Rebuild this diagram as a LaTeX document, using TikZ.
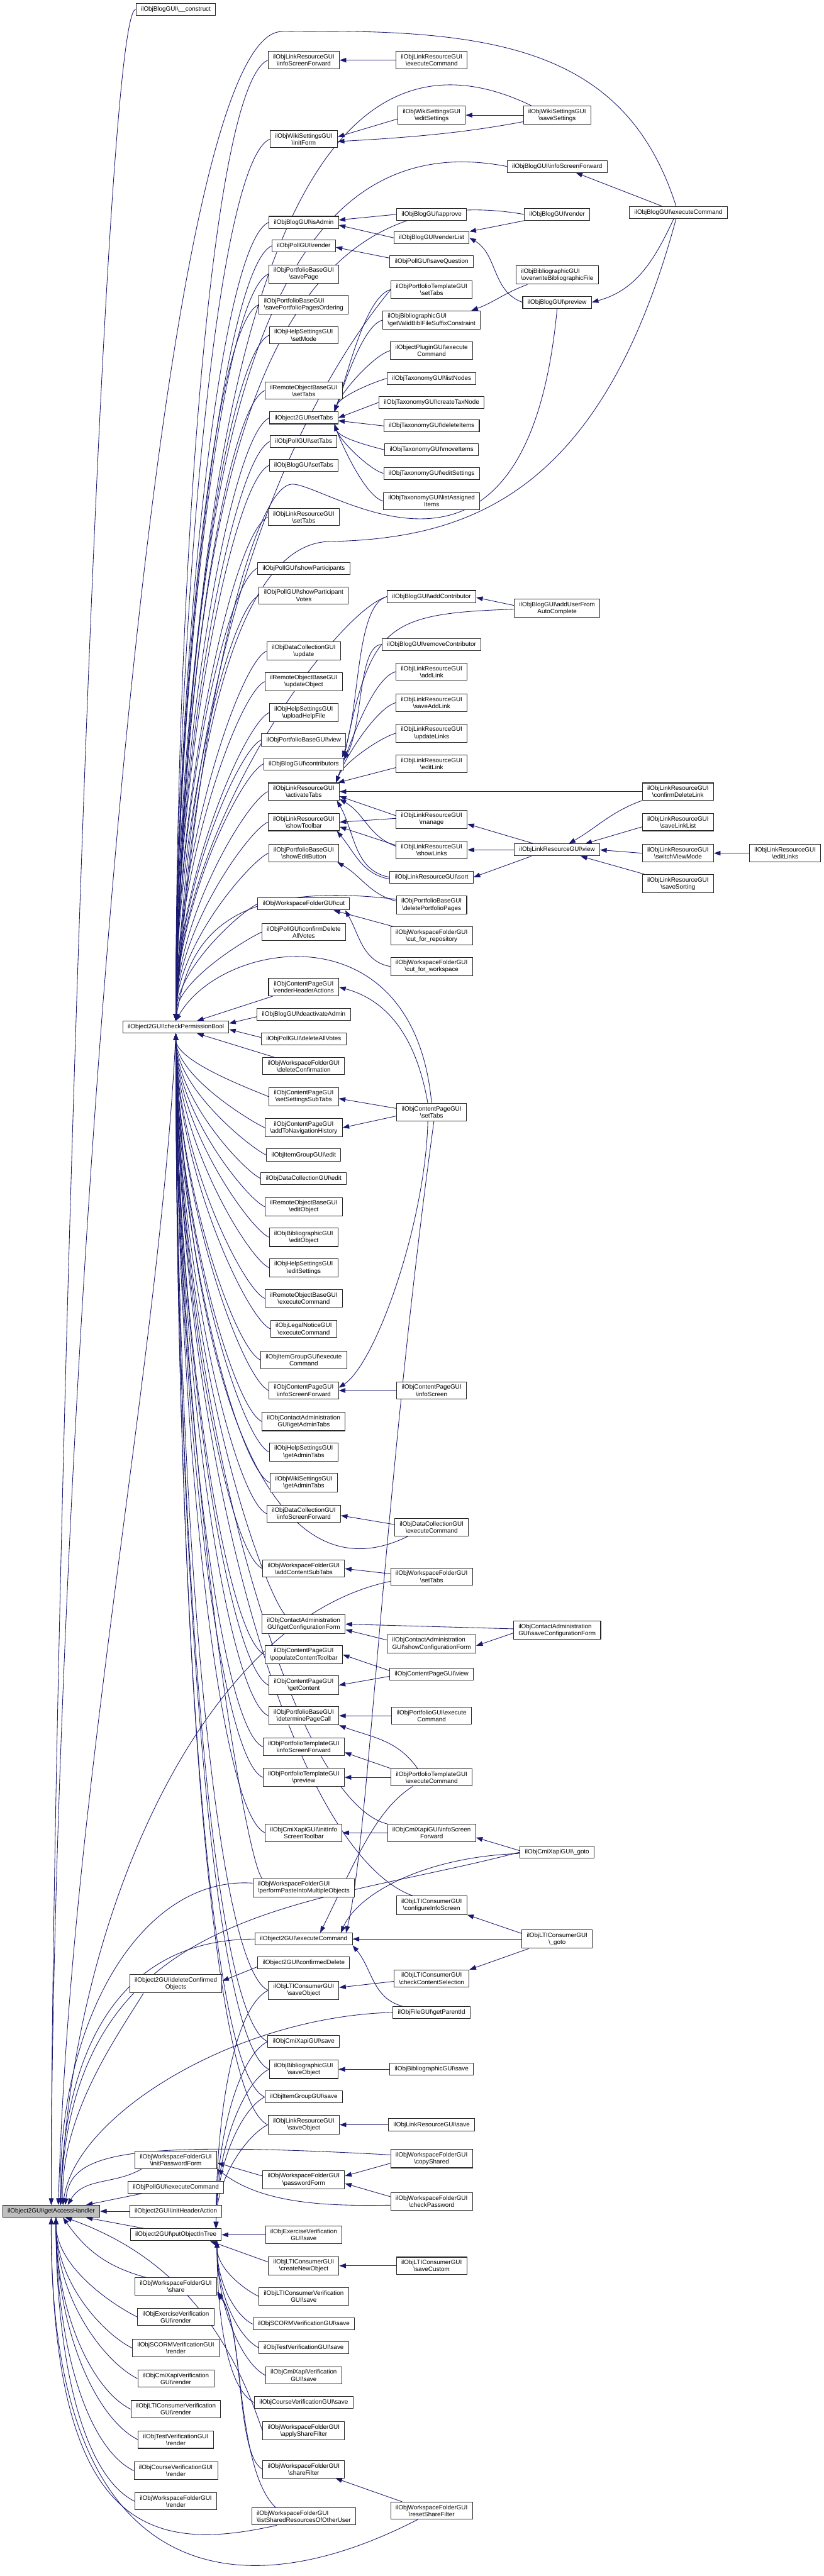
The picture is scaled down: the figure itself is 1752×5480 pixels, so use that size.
\documentclass[tikz,border=0pt]{standalone}
\usepackage{fontspec}
\setmainfont{Liberation Sans}
\usetikzlibrary{positioning, shapes, arrows.meta, calc}
\definecolor{edgeblue}{HTML}{191970}
\definecolor{rootgray}{HTML}{BFBFBF}
\newcommand{\bs}{\textbackslash}
\pgfdeclarelayer{back}
\pgfdeclarelayer{bg}
\pgfsetlayers{back,bg,main}
\tikzset{
  fn/.style={draw=black!85, fill=white, line width=1.4pt, align=center, inner xsep=10.5pt, inner ysep=6pt, minimum height=25.5pt, font=\fontsize{13.2}{15}\selectfont},
  fnl/.style={fn, align=left},
  call/.style={color=edgeblue, line width=1.15pt, {Triangle[length=14pt,width=10pt]}-},
  fan/.style n args={3}{to path={let \p1=(\tikztostart), \p2=(\tikztotarget), \n1={#1*(\y2-\y1)}, \n2={#2*abs(\y2-\y1)+20} in .. controls ({\x1},{\y1+\n1}) and ({\x2-\n2},{\y2+(#3)*\n2}) .. (\tikztotarget)}},
  fanup/.style={fan={0.45}{0.05}{-0.45}},
  fandn/.style={fan={0.45}{0.05}{0.45}},
  fanroot/.style={fan={0.25}{0.012}{0}},
  fanrd/.style={fan={0.5}{0.15}{0.5}},
  fanpu/.style={fan={0.5}{0.1}{-0.5}},
  fanpd/.style={fan={0.5}{0.1}{0.5}},
  tabup/.style={out=70, in=195, out looseness=.7, in looseness=.5},
  tabdn/.style={out=-70, in=165, out looseness=.7, in looseness=.5}}

\begin{document}
\begin{tikzpicture}[x=1pt, y=1pt]
\begin{pgfonlayer}{back}
\fill[white] (0,0) rectangle (1752,-5480);
\end{pgfonlayer}
\useasboundingbox (0,0) rectangle (1752,-5480);

% root and second column
\node[fn, fill=rootgray] (root) at (109,-4704) {ilObject2GUI\bs{}getAccessHandler};
\node[fn] (bcons) at (374,-20) {ilObjBlogGUI\bs{}\_\_construct};
\node[fn] (cpb) at (374,-2185) {ilObject2GUI\bs{}checkPermissionBool};
\node[fn] (delconf) at (374,-4220) {ilObject2GUI\bs{}deleteConfirmed\\Objects};
\node[fn] (initpw) at (374,-4595) {ilObjWorkspaceFolderGUI\\\bs{}initPasswordForm};
\node[fn] (pollexec) at (374,-4653) {ilObjPollGUI\bs{}executeCommand};
\node[fn] (inithead) at (374,-4704) {ilObject2GUI\bs{}initHeaderAction};
\node[fn] (putobj) at (374,-4754) {ilObject2GUI\bs{}putObjectInTree};
\node[fn] (share) at (374,-4864) {ilObjWorkspaceFolderGUI\\\bs{}share};
\node[fn] (rexc) at (374,-4929) {ilObjExerciseVerification\\GUI\bs{}render};
\node[fn] (rscorm) at (374,-4995) {ilObjSCORMVerificationGUI\\\bs{}render};
\node[fn] (rcmi) at (374,-5060) {ilObjCmiXapiVerification\\GUI\bs{}render};
\node[fn] (rlti) at (374,-5125) {ilObjLTIConsumerVerification\\GUI\bs{}render};
\node[fn] (rtst) at (374,-5190) {ilObjTestVerificationGUI\\\bs{}render};
\node[fn] (rcrs) at (374,-5256) {ilObjCourseVerificationGUI\\\bs{}render};
\node[fn] (rwsp) at (374,-5321) {ilObjWorkspaceFolderGUI\\\bs{}render};

% third column
\node[fn] (lrisf) at (646,-128) {ilObjLinkResourceGUI\\\bs{}infoScreenForward};
\node[fn] (wkinit) at (646,-296) {ilObjWikiSettingsGUI\\\bs{}initForm};
\node[fn] (bladm) at (646,-473) {ilObjBlogGUI\bs{}isAdmin};
\node[fn] (plrend) at (646,-523) {ilObjPollGUI\bs{}render};
\node[fn] (pfsave) at (646,-583) {ilObjPortfolioBaseGUI\\\bs{}savePage};
\node[fnl] (pforder) at (646,-648) {ilObjPortfolioBaseGUI\\\bs{}savePortfolioPagesOrdering};
\node[fn] (hsmode) at (646,-713) {ilObjHelpSettingsGUI\\\bs{}setMode};
\node[fn] (rotabs) at (646,-831) {ilRemoteObjectBaseGUI\\\bs{}setTabs};
\node[fn] (o2tabs) at (646,-889) {ilObject2GUI\bs{}setTabs};
\node[fn] (pltabs) at (646,-939) {ilObjPollGUI\bs{}setTabs};
\node[fn] (bltabs) at (646,-990) {ilObjBlogGUI\bs{}setTabs};
\node[fn] (lrtabs) at (646,-1100) {ilObjLinkResourceGUI\\\bs{}setTabs};
\node[fn] (plpart) at (646,-1209) {ilObjPollGUI\bs{}showParticipants};
\node[fn] (plvotes) at (646,-1267) {ilObjPollGUI\bs{}showParticipant\\Votes};
\node[fn] (dcupd) at (646,-1385) {ilObjDataCollectionGUI\\\bs{}update};
\node[fn] (roupd) at (646,-1450) {ilRemoteObjectBaseGUI\\\bs{}updateObject};
\node[fn] (hsupl) at (646,-1516) {ilObjHelpSettingsGUI\\\bs{}uploadHelpFile};
\node[fn] (pfview) at (646,-1574) {ilObjPortfolioBaseGUI\bs{}view};
\node[fn] (blcontr) at (646,-1625) {ilObjBlogGUI\bs{}contributors};
\node[fn] (lract) at (646,-1684) {ilObjLinkResourceGUI\\\bs{}activateTabs};
\node[fn] (lrtool) at (646,-1749) {ilObjLinkResourceGUI\\\bs{}showToolbar};
\node[fn] (pfedit) at (646,-1815) {ilObjPortfolioBaseGUI\\\bs{}showEditButton};
\node[fn] (wscut) at (646,-1923) {ilObjWorkspaceFolderGUI\bs{}cut};
\node[fn] (pldelall) at (646,-1983) {ilObjPollGUI\bs{}confirmDelete\\AllVotes};
\node[fn] (cprha) at (646,-2100) {ilObjContentPageGUI\\\bs{}renderHeaderActions};
\node[fn] (bldeact) at (646,-2158) {ilObjBlogGUI\bs{}deactivateAdmin};
\node[fn] (pldel) at (646,-2210) {ilObjPollGUI\bs{}deleteAllVotes};
\node[fn] (wsdelc) at (646,-2268) {ilObjWorkspaceFolderGUI\\\bs{}deleteConfirmation};
\node[fn] (cpsub) at (646,-2333) {ilObjContentPageGUI\\\bs{}setSettingsSubTabs};
\node[fn] (cpnav) at (646,-2399) {ilObjContentPageGUI\\\bs{}addToNavigationHistory};
\node[fn] (igedit) at (646,-2457) {ilObjItemGroupGUI\bs{}edit};
\node[fn] (dcedit) at (646,-2507) {ilObjDataCollectionGUI\bs{}edit};
\node[fn] (roedit) at (646,-2567) {ilRemoteObjectBaseGUI\\\bs{}editObject};
\node[fn] (bbedit) at (646,-2632) {ilObjBibliographicGUI\\\bs{}editObject};
\node[fn] (hsedit) at (646,-2697) {ilObjHelpSettingsGUI\\\bs{}editSettings};
\node[fn] (roexec) at (646,-2762) {ilRemoteObjectBaseGUI\\\bs{}executeCommand};
\node[fn] (lnexec) at (646,-2827) {ilObjLegalNoticeGUI\\\bs{}executeCommand};
\node[fn] (igexec) at (646,-2893) {ilObjItemGroupGUI\bs{}execute\\Command};
\node[fn] (cpisf) at (646,-2958) {ilObjContentPageGUI\\\bs{}infoScreenForward};
\node[fn] (caadm) at (646,-3024) {ilObjContactAdministration\\GUI\bs{}getAdminTabs};
\node[fn] (hsadm) at (646,-3089) {ilObjHelpSettingsGUI\\\bs{}getAdminTabs};
\node[fn] (wkadm) at (646,-3154) {ilObjWikiSettingsGUI\\\bs{}getAdminTabs};
\node[fn] (dcisf) at (646,-3220) {ilObjDataCollectionGUI\\\bs{}infoScreenForward};
\node[fn] (wssub) at (646,-3337) {ilObjWorkspaceFolderGUI\\\bs{}addContentSubTabs};
\node[fn] (cacfg) at (646,-3455) {ilObjContactAdministration\\GUI\bs{}getConfigurationForm};
\node[fn] (cptool) at (646,-3520) {ilObjContentPageGUI\\\bs{}populateContentToolbar};
\node[fn] (cpcont) at (646,-3585) {ilObjContentPageGUI\\\bs{}getContent};
\node[fn] (pfdet) at (646,-3650) {ilObjPortfolioBaseGUI\\\bs{}determinePageCall};
\node[fn] (ptisf) at (646,-3716) {ilObjPortfolioTemplateGUI\\\bs{}infoScreenForward};
\node[fn] (ptprev) at (646,-3781) {ilObjPortfolioTemplateGUI\\\bs{}preview};
\node[fn] (cxtool) at (646,-3899) {ilObjCmiXapiGUI\bs{}initInfo\\ScreenToolbar};
\node[fnl] (wspaste) at (646,-4016) {ilObjWorkspaceFolderGUI\\\bs{}performPasteIntoMultipleObjects};
\node[fn] (o2exec) at (646,-4125) {ilObject2GUI\bs{}executeCommand};
\node[fn] (o2cdel) at (646,-4176) {ilObject2GUI\bs{}confirmedDelete};
\node[fn] (ltisave) at (646,-4234) {ilObjLTIConsumerGUI\\\bs{}saveObject};
\node[fn] (cxsave) at (646,-4343) {ilObjCmiXapiGUI\bs{}save};
\node[fn] (bbsobj) at (646,-4402) {ilObjBibliographicGUI\\\bs{}saveObject};
\node[fn] (igsave) at (646,-4461) {ilObjItemGroupGUI\bs{}save};
\node[fn] (lrsobj) at (646,-4520) {ilObjLinkResourceGUI\\\bs{}saveObject};
\node[fn] (wspw) at (646,-4637) {ilObjWorkspaceFolderGUI\\\bs{}passwordForm};
\node[fn] (vexc) at (646,-4754) {ilObjExerciseVerification\\GUI\bs{}save};
\node[fn] (lticre) at (646,-4820) {ilObjLTIConsumerGUI\\\bs{}createNewObject};
\node[fn] (vlti) at (646,-4885) {ilObjLTIConsumerVerification\\GUI\bs{}save};
\node[fn] (vscorm) at (646,-4944) {ilObjSCORMVerificationGUI\bs{}save};
\node[fn] (vtst) at (646,-4994) {ilObjTestVerificationGUI\bs{}save};
\node[fn] (vcmi) at (646,-5053) {ilObjCmiXapiVerification\\GUI\bs{}save};
\node[fn] (vcrs) at (646,-5111) {ilObjCourseVerificationGUI\bs{}save};
\node[fn] (wsapply) at (646,-5171) {ilObjWorkspaceFolderGUI\\\bs{}applyShareFilter};
\node[fn] (wsfilt) at (646,-5253) {ilObjWorkspaceFolderGUI\\\bs{}shareFilter};
\node[fnl] (wslist) at (646,-5353) {ilObjWorkspaceFolderGUI\\\bs{}listSharedResourcesOfOtherUser};

% fourth column
\node[fn] (lrexec) at (918,-128) {ilObjLinkResourceGUI\\\bs{}executeCommand};
\node[fn] (wkedit) at (918,-245) {ilObjWikiSettingsGUI\\\bs{}editSettings};
\node[fn] (blappr) at (918,-456) {ilObjBlogGUI\bs{}approve};
\node[fn] (blrlist) at (918,-506) {ilObjBlogGUI\bs{}renderList};
\node[fn] (plsaveq) at (918,-557) {ilObjPollGUI\bs{}saveQuestion};
\node[fn] (pttabs) at (918,-616) {ilObjPortfolioTemplateGUI\\\bs{}setTabs};
\node[fnl] (bbvalid) at (918,-681) {ilObjBibliographicGUI\\\bs{}getValidBiblFileSuffixConstraint};
\node[fn] (plugexec) at (918,-746) {ilObjectPluginGUI\bs{}execute\\Command};
\node[fn] (txlist) at (918,-805) {ilObjTaxonomyGUI\bs{}listNodes};
\node[fn] (txcreate) at (918,-856) {ilObjTaxonomyGUI\bs{}createTaxNode};
\node[fn] (txdel) at (918,-906) {ilObjTaxonomyGUI\bs{}deleteItems};
\node[fn] (txmove) at (918,-957) {ilObjTaxonomyGUI\bs{}moveItems};
\node[fn] (txedit) at (918,-1007) {ilObjTaxonomyGUI\bs{}editSettings};
\node[fn] (txassign) at (918,-1066) {ilObjTaxonomyGUI\bs{}listAssigned\\Items};
\node[fn] (bladdc) at (918,-1269) {ilObjBlogGUI\bs{}addContributor};
\node[fn] (blremc) at (918,-1371) {ilObjBlogGUI\bs{}removeContributor};
\node[fn] (lradd) at (918,-1429) {ilObjLinkResourceGUI\\\bs{}addLink};
\node[fn] (lrsadd) at (918,-1495) {ilObjLinkResourceGUI\\\bs{}saveAddLink};
\node[fn] (lrupd) at (918,-1560) {ilObjLinkResourceGUI\\\bs{}updateLinks};
\node[fn] (lredit) at (918,-1625) {ilObjLinkResourceGUI\\\bs{}editLink};
\node[fn] (lrman) at (918,-1743) {ilObjLinkResourceGUI\\\bs{}manage};
\node[fn] (lrshow) at (918,-1808) {ilObjLinkResourceGUI\\\bs{}showLinks};
\node[fn] (lrsort) at (918,-1866) {ilObjLinkResourceGUI\bs{}sort};
\node[fn] (pfdelp) at (918,-1925) {ilObjPortfolioBaseGUI\\\bs{}deletePortfolioPages};
\node[fn] (wscutr) at (918,-1991) {ilObjWorkspaceFolderGUI\\\bs{}cut\_for\_repository};
\node[fn] (wscutw) at (918,-2056) {ilObjWorkspaceFolderGUI\\\bs{}cut\_for\_workspace};
\node[fn] (cptabs) at (918,-2366) {ilObjContentPageGUI\\\bs{}setTabs};
\node[fn] (cpinfo) at (918,-2958) {ilObjContentPageGUI\\\bs{}infoScreen};
\node[fn] (dcexec) at (918,-3249) {ilObjDataCollectionGUI\\\bs{}executeCommand};
\node[fn] (wstabs) at (918,-3354) {ilObjWorkspaceFolderGUI\\\bs{}setTabs};
\node[fnl] (cashow) at (918,-3497) {ilObjContactAdministration\\GUI\bs{}showConfigurationForm};
\node[fn] (cpview) at (918,-3562) {ilObjContentPageGUI\bs{}view};
\node[fn] (pfexec) at (918,-3650) {ilObjPortfolioGUI\bs{}execute\\Command};
\node[fn] (ptexec) at (918,-3781) {ilObjPortfolioTemplateGUI\\\bs{}executeCommand};
\node[fn] (cxisf) at (918,-3899) {ilObjCmiXapiGUI\bs{}infoScreen\\Forward};
\node[fn] (lticfg) at (918,-4053) {ilObjLTIConsumerGUI\\\bs{}configureInfoScreen};
\node[fn] (lticheck) at (918,-4209) {ilObjLTIConsumerGUI\\\bs{}checkContentSelection};
\node[fn] (fileparent) at (918,-4281) {ilObjFileGUI\bs{}getParentId};
\node[fn] (bbsave) at (918,-4402) {ilObjBibliographicGUI\bs{}save};
\node[fn] (lrsave) at (918,-4520) {ilObjLinkResourceGUI\bs{}save};
\node[fn] (wscopy) at (918,-4592) {ilObjWorkspaceFolderGUI\\\bs{}copyShared};
\node[fn] (wschk) at (918,-4683) {ilObjWorkspaceFolderGUI\\\bs{}checkPassword};
\node[fn] (lticust) at (918,-4820) {ilObjLTIConsumerGUI\\\bs{}saveCustom};
\node[fn] (wsreset) at (918,-5341) {ilObjWorkspaceFolderGUI\\\bs{}resetShareFilter};

% fifth to seventh column
\node[fn] (wksave) at (1185,-245) {ilObjWikiSettingsGUI\\\bs{}saveSettings};
\node[fn] (blisf) at (1185,-354) {ilObjBlogGUI\bs{}infoScreenForward};
\node[fn] (blrend) at (1185,-456) {ilObjBlogGUI\bs{}render};
\node[fnl] (bbover) at (1185,-585) {ilObjBibliographicGUI\\\bs{}overwriteBibliographicFile};
\node[fn] (blprev) at (1185,-643) {ilObjBlogGUI\bs{}preview};
\node[fn] (bladdu) at (1185,-1294) {ilObjBlogGUI\bs{}addUserFrom\\AutoComplete};
\node[fn] (lrview) at (1185,-1808) {ilObjLinkResourceGUI\bs{}view};
\node[fnl] (casave) at (1185,-3468) {ilObjContactAdministration\\GUI\bs{}saveConfigurationForm};
\node[fn] (cxgoto) at (1185,-3940) {ilObjCmiXapiGUI\bs{}\_goto};
\node[fn] (ltigoto) at (1185,-4125) {ilObjLTIConsumerGUI\\\bs{}\_goto};
\node[fn] (blexec) at (1443,-452) {ilObjBlogGUI\bs{}executeCommand};
\node[fn] (lrcdel) at (1442,-1684) {ilObjLinkResourceGUI\\\bs{}confirmDeleteLink};
\node[fn] (lrsll) at (1442,-1749) {ilObjLinkResourceGUI\\\bs{}saveLinkList};
\node[fn] (lrswitch) at (1442,-1815) {ilObjLinkResourceGUI\\\bs{}switchViewMode};
\node[fn] (lrssort) at (1442,-1880) {ilObjLinkResourceGUI\\\bs{}saveSorting};
\node[fn] (lreditl) at (1670,-1815) {ilObjLinkResourceGUI\\\bs{}editLinks};

\begin{pgfonlayer}{bg}
% callers of getAccessHandler
\draw[call] (root.north) to[fanroot] (bcons.west);
\coordinate (bxtop) at (600,-67);
\draw[call] (root.north) .. controls (109,-3300) and (300,-67) .. (bxtop) .. controls (1050,-60) and (1330,-100) .. ([xshift=-5pt]blexec.north);
\draw[call] ([xshift=15pt]root.north) .. controls (150,-3800) and (340,-2900) .. (cpb.south);
\draw[call] ([xshift=20pt]root.north) .. controls (150,-4100) and (420,-3450) .. ([yshift=-10pt]wstabs.west);
\draw[call] ([xshift=20pt]root.north) .. controls (120,-4300) and (300,-3990) .. ([yshift=10pt]wspaste.west);
\draw[call] ([xshift=20pt]root.north) .. controls (135,-4350) and (260,-4125) .. (o2exec.west);
\draw[call] ([xshift=20pt]root.north) .. controls (150,-4050) and (650,-4060) .. (cxgoto.west);
\draw[call] ([xshift=25pt]root.north) .. controls (160,-4500) and (500,-4290) .. (fileparent.west);
\draw[call] ([xshift=25pt]root.north) .. controls (128,-4500) and (250,-4330) .. ([xshift=30pt]delconf.south west);
\draw[call] ([xshift=30pt]root.north) .. controls (150,-4580) and (260,-4553) .. ([yshift=8pt]wscopy.west);
\draw[call] ([xshift=35pt]root.north) to[out=60,in=-150] ([xshift=15pt]initpw.south west);
\draw[call] ([xshift=-30pt]root.north east) -- ([xshift=30pt]pollexec.south west);
\draw[call] (root.east) -- (inithead.west);
\draw[call] ([xshift=-30pt]root.south east) -- ([xshift=30pt]putobj.north west);
\draw[call] ([xshift=25pt]root.south) to[out=-55,in=165] ([xshift=25pt]share.north west);
\foreach \c in {rexc,rscorm,rcmi,rlti,rtst,rcrs,rwsp}
  \draw[call] ([xshift=10pt]root.south) to[fanrd] (\c.west);
\draw[call] ([xshift=30pt]root.south) .. controls (400,-4810) and (500,-5000) .. (wsapply.west);
\draw[call] (root.south) .. controls (110,-5400) and (330,-5430) .. ([xshift=-57pt]wslist.south);
\draw[call] (root.south) .. controls (105,-5500) and (500,-5560) .. ([xshift=-30pt]wsreset.south);

% callers of checkPermissionBool
\foreach \c in {lrisf,wkinit,bladm,plrend,pfsave,pforder,hsmode,rotabs,o2tabs,pltabs,bltabs,lrtabs,plpart,plvotes,dcupd,roupd,hsupl,pfview,blcontr,lract,lrtool,pfedit,wscut,pldelall}
  \draw[call] (cpb.north) to[fanup] (\c.west);
\draw[call] (cpb.north) .. controls (400,-1000) and (560,50) .. ([xshift=-55pt]wksave.north);
\draw[call] (cpb.north) .. controls (400,-1000) and (540,-250) .. (blisf.west);
\draw[call] (cpb.north) .. controls (400,-1000) and (560,-360) .. (blrend.west);
\draw[call] (cpb.north) .. controls (410,-1250) and (680,-800) .. (pttabs.west);
\coordinate (bpw) at (622,-1030);
\draw[call] (cpb.north) .. controls (420,-1500) and (540,-1030) .. (bpw) .. controls (700,-1030) and (1120,-1350) .. (blprev.south);
\coordinate (bxlow) at (700,-1152);
\draw[call] (cpb.north) .. controls (400,-1700) and (480,-1158) .. (bxlow) .. controls (1000,-1146) and (1280,-1050) .. ([xshift=-5pt]blexec.south);
\draw[call] (cpb.north) to[fan={0.45}{0.1}{-0.3}] (bladdc.west);
\draw[call] (cpb.north) .. controls (400,-2000) and (480,-1870) .. ([yshift=12pt]pfdelp.west);
\draw[call] (cpb.north) .. controls (470,-2000) and (880,-1930) .. (cptabs.north);
\draw[call] ([xshift=45pt]cpb.north) -- ([xshift=10pt]cprha.south west);
\draw[call] ([yshift=8pt]cpb.east) -- ([yshift=-5pt]bldeact.west);
\draw[call] ([yshift=-5pt]cpb.east) -- ([yshift=3pt]pldel.west);
\draw[call] ([xshift=45pt]cpb.south) -- ([xshift=25pt]wsdelc.north west);
\foreach \c in {cpsub,cpnav,igedit,dcedit,roedit,bbedit,hsedit,roexec,lnexec,igexec,cpisf,caadm,hsadm,wkadm,dcisf,wssub,cptool,cpcont,pfdet,ptisf,ptprev,cxtool,ltisave,cxsave,bbsobj,igsave,lrsobj}
  \draw[call] (cpb.south) to[fandn] (\c.west);
\draw[call] (cpb.south) .. controls (400,-2900) and (560,-3420) .. ([xshift=-50pt]dcexec.south);
\draw[call] (cpb.south) .. controls (380,-2900) and (560,-3380) .. ([xshift=-40pt]cacfg.north);
\draw[call] (cpb.south) .. controls (380,-3000) and (620,-3830) .. (cxisf.north west);
\draw[call] (cpb.south) .. controls (380,-3100) and (620,-3940) .. ([xshift=35pt]lticfg.north west);
\draw[call] (cpb.south) .. controls (380,-3100) and (520,-3950) .. ([xshift=20pt]wspaste.north west);

% callers of putObjectInTree and share
\foreach \c in {ltisave,cxsave,bbsobj,igsave,lrsobj}
  \draw[call] ([xshift=-12pt]putobj.north east) to[fanpu] (\c.west);
\draw[call] (putobj.east) -- (vexc.west);
\draw[call] ([xshift=-25pt]putobj.south east) -- ([yshift=8pt]lticre.west);
\foreach \c in {vlti,vscorm,vtst,vcmi,vcrs}
  \draw[call] ([xshift=-10pt]putobj.south east) to[fanpd] (\c.west);
\draw[call] ([yshift=4pt]share.south east) .. controls (520,-4950) and (500,-5220) .. (wsfilt.west);
\draw[call] ([yshift=8pt]share.south east) .. controls (520,-4950) and (500,-5250) .. ([xshift=-60pt]wslist.north);

% wiki, blog, poll
\draw[call] (lrisf.east) -- (lrexec.west);
\draw[call] ([yshift=5pt]wkinit.east) -- ([yshift=-8pt]wkedit.west);
\draw[call] (wkedit.east) -- (wksave.west);
\draw[call] ([yshift=-5pt]wkinit.east) .. controls (900,-291) and (1000,-280) .. ([yshift=-14pt]wksave.west);
\draw[call] ([xshift=40pt]blisf.south) -- ([xshift=-35pt]blexec.north);
\draw[call] (blprev.east) to[out=15,in=-115] ([xshift=-10pt]blexec.south);
\draw[call] ([yshift=5pt]bladm.east) -- (blappr.west);
\draw[call] ([yshift=-6pt]bladm.east) -- (blrlist.west);
\draw[call] (blrlist.north east) -- (blrend.south west);
\draw[call] (blrlist.east) to[out=-30,in=160] (blprev.west);
\draw[call] ([yshift=-3pt]plrend.east) -- ([yshift=8pt]plsaveq.west);
\draw[call] ([xshift=-20pt]bbvalid.north east) to[out=20,in=-160] ([xshift=25pt]bbover.south west);

% callers of ilObject2GUI::setTabs
\foreach \c in {pttabs,bbvalid,plugexec,txlist}
  \draw[call] ([xshift=-8pt]o2tabs.north east) to[tabup] (\c.west);
\draw[call] (o2tabs.east) -- (txcreate.west);
\draw[call] ([yshift=-6pt]o2tabs.east) -- (txdel.west);
\foreach \c in {txmove,txedit,txassign}
  \draw[call] ([xshift=-8pt]o2tabs.south east) to[tabdn] (\c.west);

% blog contributors
\draw[call] ([yshift=-2pt]bladdc.east) -- ([yshift=6pt]bladdu.west);
\draw[call] ([xshift=-4pt]blcontr.north east) to[out=70,in=195,out looseness=.8,in looseness=.5] (bladdc.west);
\draw[call] (blcontr.north east) .. controls (790,-1330) and (820,-1305) .. ([yshift=-2pt]bladdu.west);
\draw[call] ([yshift=-4pt]blcontr.north east) to[out=60,in=180,out looseness=.8,in looseness=.5] (blremc.west);

% link resource
\foreach \c in {lradd,lrsadd,lrupd}
  \draw[call] ([xshift=-8pt]lract.north east) to[tabup] (\c.west);
\draw[call] ([xshift=-4pt]lract.north east) -- ([yshift=-8pt]lredit.west);
\draw[call] (lract.east) -- (lrcdel.west);
\draw[call] ([yshift=-10pt]lract.east) -- ([yshift=8pt]lrman.west);
\draw[call] ([yshift=-16pt]lract.east) to[out=-30,in=160] ([yshift=8pt]lrshow.west);
\draw[call] ([xshift=-6pt]lract.south east) to[out=-60,in=170] (lrsort.west);
\draw[call] (lrtool.east) -- ([yshift=2pt]lrman.west);
\draw[call] ([yshift=-10pt]lrtool.east) -- ([yshift=10pt]lrshow.west);
\draw[call] ([xshift=-6pt]lrtool.south east) to[out=-50,in=170] ([yshift=-4pt]lrsort.west);
\draw[call] ([yshift=-10pt]lrman.east) -- ([xshift=-50pt]lrview.north);
\draw[call] (lrshow.east) -- (lrview.west);
\draw[call] (lrsort.east) -- ([xshift=-55pt]lrview.south);
\draw[call] ([xshift=25pt]lrview.north) to[out=30,in=-160] (lrcdel.south west);
\draw[call] ([xshift=60pt]lrview.north) -- ([yshift=-10pt]lrsll.west);
\draw[call] (lrview.east) -- (lrswitch.west);
\draw[call] ([xshift=50pt]lrview.south) -- ([xshift=5pt]lrssort.north west);
\draw[call] (lrswitch.east) -- (lreditl.west);

% portfolio pages and workspace cut
\draw[call] ([xshift=-4pt]pfedit.south east) to[out=-30,in=165] ([yshift=8pt]pfdelp.west);
\draw[call] ([xshift=-35pt]wscut.south east) -- ([xshift=5pt]wscutr.north west);
\draw[call] ([xshift=-10pt]wscut.south east) to[out=-60,in=170] (wscutw.west);

% content page, data collection, contacts
\draw[call] (cprha.east) to[out=-15,in=100] ([xshift=-8pt]cptabs.north);
\draw[call] ([yshift=-4pt]cpsub.east) -- ([yshift=8pt]cptabs.west);
\draw[call] (cpnav.east) -- ([yshift=-8pt]cptabs.west);
\draw[call] ([yshift=6pt]cpisf.east) .. controls (800,-2900) and (905,-2600) .. ([xshift=-8pt]cptabs.south);
\draw[call] ([xshift=-14pt]o2exec.north east) .. controls (785,-3912) and (813,-3187) .. ([xshift=5pt]cptabs.south);
\draw[call] (cpisf.east) -- (cpinfo.west);
\draw[call] ([yshift=-4pt]dcisf.east) -- ([yshift=6pt]dcexec.west);
\draw[call] (wssub.east) -- ([yshift=6pt]wstabs.west);
\draw[call] (cacfg.east) -- ([yshift=3pt]casave.west);
\draw[call] ([yshift=-12pt]cacfg.east) -- ([yshift=8pt]cashow.west);
\draw[call] ([yshift=-4pt]cashow.east) -- ([yshift=-6pt]casave.west);
\draw[call] (cptool.east) -- ([yshift=8pt]cpview.west);
\draw[call] (cpcont.east) -- ([yshift=-4pt]cpview.west);

% portfolio template, cmi5, lti
\draw[call] (pfdet.east) -- (pfexec.west);
\draw[call] (pfdet.south east) to[out=-20,in=125] ([xshift=-30pt]ptexec.north);
\draw[call] ([yshift=-12pt]ptisf.east) -- (ptexec.north west);
\draw[call] (ptprev.east) -- (ptexec.west);
\draw[call] ([xshift=35pt]o2exec.north) .. controls (760,-3950) and (800,-3850) .. ([xshift=-40pt]ptexec.south);
\draw[call] (cxtool.east) -- (cxisf.west);
\draw[call] ([yshift=-10pt]cxisf.east) -- ([yshift=3pt]cxgoto.west);
\draw[call] ([xshift=-25pt]o2exec.north east) .. controls (760,-4030) and (900,-3950) .. ([yshift=-3pt]cxgoto.west);
\draw[call] (lticfg.south east) -- ([yshift=12pt]ltigoto.west);
\draw[call] (o2exec.east) -- (ltigoto.west);
\draw[call] (lticheck.north east) -- ([xshift=15pt]ltigoto.south west);
\draw[call] ([yshift=6pt]ltisave.east) -- ([yshift=-6pt]lticheck.west);
\draw[call] (o2exec.south east) to[out=-50,in=165] ([xshift=20pt]fileparent.north west);
\draw[call] ([yshift=6pt]delconf.east) -- ([yshift=-8pt]o2cdel.west);
\draw[call] (bbsobj.east) -- (bbsave.west);
\draw[call] (lrsobj.east) -- (lrsave.west);

% workspace password and sharing
\draw[call] ([yshift=-6pt]initpw.east) -- ([yshift=8pt]wspw.west);
\draw[call] ([yshift=8pt]wspw.east) -- ([yshift=-10pt]wscopy.west);
\draw[call] ([yshift=-8pt]wspw.east) -- ([yshift=10pt]wschk.west);
\draw[call] (initpw.south east) .. controls (560,-4690) and (700,-4693) .. ([yshift=-8pt]wschk.west);
\draw[call] (lticre.east) -- (lticust.west);
\draw[call] ([xshift=-20pt]wsfilt.south east) -- ([xshift=25pt]wsreset.north west);
\end{pgfonlayer}
\end{tikzpicture}
\end{document}
